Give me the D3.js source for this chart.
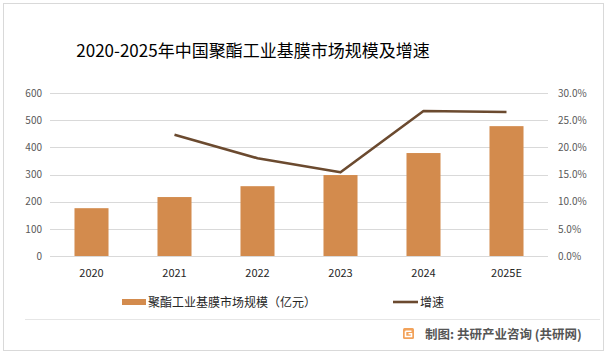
<!DOCTYPE html>
<html><head><meta charset="utf-8">
<script src="https://cdn.jsdelivr.net/npm/d3@7"></script>
<style>body{margin:0;background:#fff}svg{display:block}</style>
</head><body>
<svg id="c" width="613" height="355"></svg>
<script>
const categories = ["2020","2021","2022","2023","2024","2025E"];
const marketSize = [176, 217, 257, 298, 379, 478];
const growth = [null, 22.3, 18.0, 15.4, 26.7, 26.5];
const leftTicks = [0,100,200,300,400,500,600];
const rightTicks = [0,5,10,15,20,25,30];

const svg = d3.select("#c");
const font = "'Noto Sans CJK SC','Noto Sans',sans-serif";
svg.append("rect").attr("x",3.5).attr("y",3.5).attr("width",600).attr("height",347)
  .attr("fill","#fff").attr("stroke","#d9d9d9").attr("stroke-width",1);

const x = d3.scaleBand().domain(categories).range([50,548]).paddingInner(0.59).paddingOuter(0.295);
const y = d3.scaleLinear().domain([0,600]).range([256,93]);
const y2 = d3.scaleLinear().domain([0,30]).range([256,93]);

// grid
svg.append("g").selectAll("line").data(leftTicks).join("line")
  .attr("x1",50).attr("x2",548).attr("y1",d=>Math.round(y(d))+0.5).attr("y2",d=>Math.round(y(d))+0.5)
  .attr("stroke","#d9d9d9").attr("stroke-width",1);

// left axis
const la = svg.append("g").attr("transform","translate(50,0)")
  .call(d3.axisLeft(y).tickValues(leftTicks).tickSize(0).tickPadding(8));
la.select(".domain").remove();
la.selectAll("text").attr("font-family",font).attr("font-size",10).attr("fill","#595959");

// right axis
const ra = svg.append("g").attr("transform","translate(548,0)")
  .call(d3.axisRight(y2).tickValues(rightTicks).tickSize(0).tickPadding(10).tickFormat(d=>d.toFixed(1)+"%"));
ra.select(".domain").remove();
ra.selectAll("text").attr("font-family",font).attr("font-size",10).attr("fill","#595959");

// bars
svg.append("g").selectAll("rect").data(marketSize).join("rect")
  .attr("x",(d,i)=>x(categories[i])).attr("width",x.bandwidth())
  .attr("y",d=>y(d)).attr("height",d=>y(0)-y(d)).attr("fill","#d38b4d");

// x axis
const xa = svg.append("g").attr("transform","translate(0,256)")
  .call(d3.axisBottom(x).tickSize(0).tickPadding(13));
xa.select(".domain").remove();
xa.selectAll("text").attr("font-family",font).attr("font-size",11).attr("fill","#262626");

// line
const pts = categories.map((c,i)=>[c,growth[i]]).filter(d=>d[1]!=null);
svg.append("path").datum(pts)
  .attr("d",d3.line().x(d=>x(d[0])+x.bandwidth()/2).y(d=>y2(d[1])))
  .attr("fill","none").attr("stroke","#6b4a2f").attr("stroke-width",2.6).attr("stroke-linejoin","round");

// title
svg.append("text").attr("x",253).attr("y",57).attr("text-anchor","middle")
  .attr("font-family",font).attr("font-size",17).attr("fill","#000")
  .text("2020-2025年中国聚酯工业基膜市场规模及增速");

// legend
svg.append("rect").attr("x",122).attr("y",299).attr("width",24).attr("height",6).attr("fill","#d38b4d");
svg.append("text").attr("x",148).attr("y",307).attr("font-family",font).attr("font-size",12).attr("fill","#262626")
  .text("聚酯工业基膜市场规模（亿元）");
svg.append("line").attr("x1",393).attr("x2",418).attr("y1",302).attr("y2",302).attr("stroke","#6b4a2f").attr("stroke-width",2.6);
svg.append("text").attr("x",420).attr("y",307).attr("font-family",font).attr("font-size",12).attr("fill","#262626").text("增速");

// separator
svg.append("line").attr("x1",25).attr("x2",600).attr("y1",319.5).attr("y2",319.5).attr("stroke","#e6e6e6");

// footer logo
const lg = svg.append("g").attr("transform","translate(403,328)");
lg.append("rect").attr("width",11).attr("height",11).attr("rx",1.5).attr("fill","#f2a25a");
lg.append("path").attr("d","M2.5,3.2 H8.5 M2.5,3.2 V8.5 H8.5 V5.8 H5.5").attr("fill","none").attr("stroke","#fff").attr("stroke-width",1.6);
svg.append("text").attr("x",425).attr("y",338.5).attr("font-family",font).attr("font-size",12.5)
  .attr("font-weight","bold").attr("fill","#555").text("制图: 共研产业咨询 (共研网)");
</script>
</body></html>
